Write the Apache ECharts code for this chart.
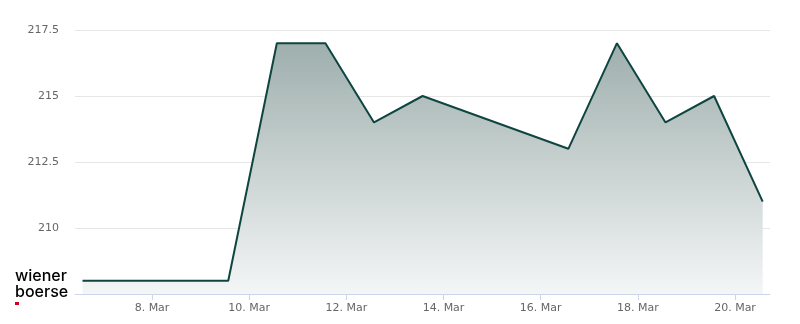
<!DOCTYPE html>
<html><head><meta charset="utf-8">
<script src="https://cdn.jsdelivr.net/npm/echarts@6/dist/echarts.min.js"></script>
<style>html,body{margin:0;padding:0;background:#fff}#c{width:800px;height:324px}</style>
</head><body><div id="c"></div>
<script>
const times = ["2026-03-06T13:40","2026-03-09T13:40","2026-03-10T13:40","2026-03-11T13:40","2026-03-12T13:40","2026-03-13T13:40","2026-03-16T13:40","2026-03-17T13:40","2026-03-18T13:40","2026-03-19T13:40","2026-03-20T13:40"];
const prices = [208, 208, 217, 217, 214, 215, 213, 217, 214, 215, 211];
const xTickDays = [8, 10, 12, 14, 16, 18, 20];
const yTicks = [207.5, 210, 212.5, 215, 217.5];

function toDay(s){
  const d = new Date(s + "Z");
  return d.getUTCDate() + (d.getUTCHours()*60 + d.getUTCMinutes())/1440;
}
const data = times.map((t,i)=>[toDay(t), prices[i]]);

const chart = echarts.init(document.getElementById('c'), null, {renderer:'canvas'});
chart.setOption({
  animation:false,
  grid:{left:75, right:30, top:30, bottom:30},
  xAxis:{
    type:'value', min:6.415, max:20.72,
    splitLine:{show:false},
    axisLine:{show:true, lineStyle:{color:'#ccd6eb', width:1}},
    axisTick:{show:true, customValues:xTickDays, length:6, lineStyle:{color:'#ccd6eb'}},
    axisLabel:{customValues:xTickDays, color:'#666', fontSize:11, fontFamily:'DejaVu Sans', margin:9,
      formatter:v=>Math.round(v)+'. Mar'}
  },
  yAxis:{
    type:'value', min:207.5, max:217.5, interval:2.5,
    axisLine:{show:false}, axisTick:{show:false},
    splitLine:{lineStyle:{color:'#e6e6e6', width:1}},
    axisLabel:{color:'#666', fontSize:11, fontFamily:'DejaVu Sans', margin:16,
      formatter:v=> v===yTicks[0] ? '' : String(v)}
  },
  series:[{
    type:'line', data:data, symbol:'none',
    lineStyle:{color:'#0e4540', width:2},
    areaStyle:{origin:'start', opacity:1, color:new echarts.graphic.LinearGradient(0,0,0,1,[
      {offset:0, color:'rgb(158,175,173)'},
      {offset:1, color:'rgb(244,246,246)'}
    ])}
  }],
  graphic:[
    {type:'text', left:15, top:268, style:{text:'wiener\nboerse', font:'500 16px Inter', fill:'#000', lineHeight:16}},
    {type:'rect', shape:{x:15, y:302, width:4, height:3}, style:{fill:'#d0021b'}}
  ]
});
</script></body></html>
